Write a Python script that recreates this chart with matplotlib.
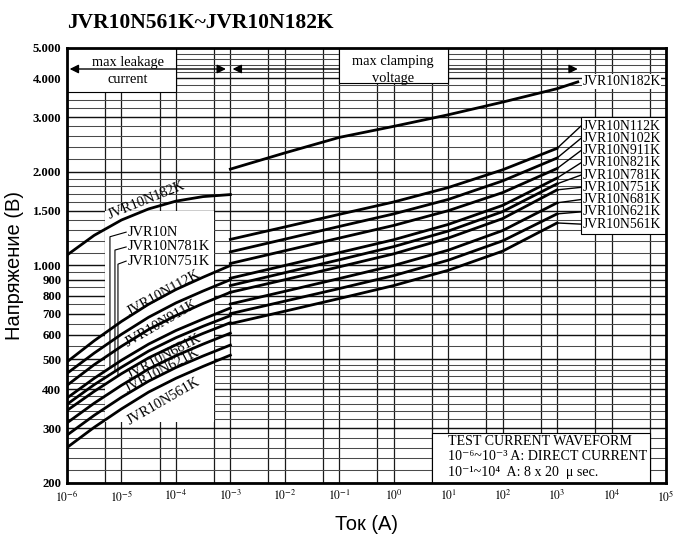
import numpy as np
import matplotlib
matplotlib.use("Agg")
import matplotlib.pyplot as plt
from matplotlib.patches import Rectangle

# ---------------- data ----------------
title = "JVR10N561K~JVR10N182K"
names = ["JVR10N182K", "JVR10N112K", "JVR10N102K", "JVR10N911K", "JVR10N821K",
         "JVR10N781K", "JVR10N751K", "JVR10N681K", "JVR10N621K", "JVR10N561K"]

# leakage region (DC), current in A
leak_i = [1e-6, 3.16e-6, 1e-5, 3.16e-5, 1e-4, 3.16e-4, 1e-3]
leak_v = {
    "JVR10N182K": [1080, 1250, 1400, 1520, 1610, 1665, 1690],
    "JVR10N112K": [490, 573, 661, 751, 837, 917, 1000],
    "JVR10N102K": [450, 523, 601, 682, 758, 828, 900],
    "JVR10N911K": [412, 480, 550, 623, 690, 755, 820],
    "JVR10N821K": [375, 434, 496, 559, 618, 673, 730],
    "JVR10N781K": [358, 414, 471, 531, 586, 638, 690],
    "JVR10N751K": [342, 394, 449, 505, 556, 605, 655],
    "JVR10N681K": [312, 361, 412, 465, 513, 559, 606],
    "JVR10N621K": [285, 330, 377, 425, 470, 512, 555],
    "JVR10N561K": [260, 302, 346, 392, 434, 474, 515],
}

# clamping region (8x20 us), current in A
clamp_i = [1e-3, 1e-2, 1e-1, 1, 10, 100, 1000]
clamp_i_182 = [1e-3, 1e-2, 1e-1, 1, 10, 100, 1000, 2400]
clamp_v = {
    "JVR10N182K": [2040, 2300, 2580, 2800, 3050, 3350, 3700, 3890],
    "JVR10N112K": [1213, 1330, 1460, 1600, 1780, 2030, 2380],
    "JVR10N102K": [1106, 1215, 1335, 1465, 1630, 1870, 2215],
    "JVR10N911K": [1015, 1115, 1225, 1345, 1500, 1715, 2050],
    "JVR10N821K": [910, 1000, 1100, 1210, 1355, 1560, 1910],
    "JVR10N781K": [862, 948, 1043, 1150, 1290, 1490, 1830],
    "JVR10N751K": [820, 900, 990, 1090, 1225, 1415, 1750],
    "JVR10N681K": [752, 826, 908, 1000, 1120, 1295, 1590],
    "JVR10N621K": [700, 768, 843, 928, 1040, 1200, 1465],
    "JVR10N561K": [650, 713, 783, 862, 965, 1112, 1370],
}

# right-hand label heights (V)
right_label_v = [3897, 2807, 2563, 2341, 2138, 1952, 1783, 1629, 1487, 1358]

yticks = [200, 300, 400, 500, 600, 700, 800, 900, 1000, 1500, 2000, 3000, 4000, 5000]
ytick_labels = ["200", "300", "400", "500", "600", "700", "800", "900", "1.000",
                "1.500", "2.000", "3.000", "4.000", "5.000"]
xticks = [1e-6, 1e-5, 1e-4, 1e-3, 1e-2, 1e-1, 1e0, 1e1, 1e2, 1e3, 1e4, 1e5]
xtick_labels = [r"$10^{-6}$", r"$10^{-5}$", r"$10^{-4}$", r"$10^{-3}$", r"$10^{-2}$",
                r"$10^{-1}$", r"$10^{0}$", r"$10^{1}$", r"$10^{2}$", r"$10^{3}$",
                r"$10^{4}$", r"$10^{5}$"]
waveform_lines = ["TEST CURRENT WAVEFORM",
                  "10\u207b\u2076~10\u207b\u00b3 A: DIRECT CURRENT",
                  "10\u207b\u00b9~10\u2074  A: 8 x 20  \u03bc sec."]

# ---------------- figure ----------------
plt.rcParams["mathtext.fontset"] = "stix"
SERIF = "Liberation Serif"
SANS = "Liberation Sans"

fig = plt.figure(figsize=(7.0, 5.35), dpi=100)
ax = fig.add_axes([0.0957, 0.0972, 0.8557, 0.8131])
ax.set_xscale("log")
ax.set_yscale("log")
ax.set_xlim(1e-6, 1e5)
ax.set_ylim(200, 5000)
ax.minorticks_off()

# grid (graph paper)
for k in range(-6, 5):
    for m in (1, 5):
        ax.axvline(m * 10.0 ** k, color="#1a1a1a", lw=0.9, zorder=1)
hvals = list(range(220, 500, 20)) + list(range(500, 1000, 50)) + \
    list(range(1000, 2000, 100)) + list(range(2000, 5000, 200))
for v in hvals:
    ax.axhline(v, color="#4a4a4a", lw=0.75, zorder=1)
for v in yticks:
    ax.axhline(v, color="#111111", lw=1.0, zorder=1)

def white_box(x0, x1, y0, y1, edge=True, z=3):
    ax.add_patch(Rectangle((x0, y0), x1 - x0, y1 - y0, facecolor="white",
                           edgecolor="black" if edge else "none", lw=0.8, zorder=z))

white_box(1e-6, 1e-4, 3600, 5000)                 # max leakage box
white_box(1e-1, 1e1, 3850, 5000, z=5)            # max clamping box
white_box(5e-6, 5e-4, 314, 1500, edge=False)     # left label area
white_box(2.75e3, 1e5, 1262, 3000)               # right label area
white_box(5, 5e4, 200, 289)                      # test waveform box

# curves
for n in names:
    ax.plot(leak_i, leak_v[n], color="black", lw=2.0, zorder=6)
    ci = clamp_i_182 if n == "JVR10N182K" else clamp_i
    ax.plot(ci, clamp_v[n], color="black", lw=2.0, zorder=6)

# right labels + leaders
for n, lv in zip(names, right_label_v):
    if n != "JVR10N182K":
        ax.plot([clamp_i[-1], 2.75e3], [clamp_v[n][-1], lv], color="black", lw=1.0, zorder=6)
    ax.text(2.9e3, lv, n, fontsize=9.9, family=SERIF, ha="left", va="center", zorder=7,
            bbox=dict(facecolor="white", edgecolor="none", pad=0.5) if n == "JVR10N182K" else None)

# left rotated labels
rot_labels = [("JVR10N182K", 2.94e-5, 1623, 22), ("JVR10N112K", 6.03e-5, 815, 29),
              ("JVR10N911K", 5.53e-5, 653, 30), ("JVR10N681K", 6.03e-5, 511, 28),
              ("JVR10N621K", 5.53e-5, 461, 28), ("JVR10N561K", 6.03e-5, 367, 30)]
for t, x, y, r in rot_labels:
    ax.text(x, y, t, fontsize=10.4, family=SERIF, rotation=r, rotation_mode="anchor",
            ha="center", va="center", zorder=7)

# left stacked labels with leaders
stack = [("JVR10N", "JVR10N821K", 1280, 1237, 6.15e-6),
         ("JVR10N781K", "JVR10N781K", 1147, 1121, 7.6e-6),
         ("JVR10N751K", "JVR10N751K", 1033, 1010, 8.63e-6)]
for t, cname, ty, ky, lx in stack:
    ax.text(1.32e-5, ty, t, fontsize=10.4, family=SERIF, ha="left", va="center", zorder=7)
    yend = 10 ** np.interp(np.log10(lx), np.log10(leak_i), np.log10(leak_v[cname]))
    ax.plot([1.22e-5, lx, lx], [ty, ky, yend], color="black", lw=0.8, zorder=6)

# arrows
arrow_v = 4280
ax.annotate("", xy=(1.12e-6, arrow_v), xytext=(8.3e-4, arrow_v),
            arrowprops=dict(arrowstyle="<|-|>", color="black", lw=1.0,
                            mutation_scale=13, shrinkA=0, shrinkB=0), zorder=4)
ax.annotate("", xy=(1.1e-3, arrow_v), xytext=(2.4e3, arrow_v),
            arrowprops=dict(arrowstyle="<|-|>", color="black", lw=1.0,
                            mutation_scale=13, shrinkA=0, shrinkB=0), zorder=4)

ax.text(1.32e-5, 4216, "max leakage\ncurrent", fontsize=10.4, family=SERIF,
        ha="center", va="center", linespacing=1.4, zorder=6)
ax.text(0.96, 4248, "max clamping\nvoltage", fontsize=10.4, family=SERIF,
        ha="center", va="center", linespacing=1.4, zorder=6)

for line, yv in zip(waveform_lines, [271, 243, 216]):
    ax.text(9.8, yv, line, fontsize=10.1, family=[SERIF, "DejaVu Serif"],
            ha="left", va="center", zorder=6)

# axes styling
for s in ax.spines.values():
    s.set_linewidth(2.0)
    s.set_zorder(8)
ax.set_yticks(yticks)
ax.set_yticklabels(ytick_labels, fontsize=9.2, family=SERIF, fontweight="bold")
ax.set_xticks(xticks)
ax.set_xticklabels(xtick_labels, fontsize=8.5)
ax.tick_params(axis="both", length=0)
ax.tick_params(axis="y", pad=4)
ax.tick_params(axis="x", pad=4)

ax.set_ylabel("Напряжение (В)", fontsize=14.5, family=SANS, labelpad=6)
ax.set_xlabel("Ток (А)", fontsize=14.5, family=SANS, labelpad=8)
fig.text(67 / 700, 1 - 23 / 535, title, fontsize=15.5, family=SERIF,
         fontweight="bold", ha="left", va="center")

fig.savefig("out.png", dpi=100)
